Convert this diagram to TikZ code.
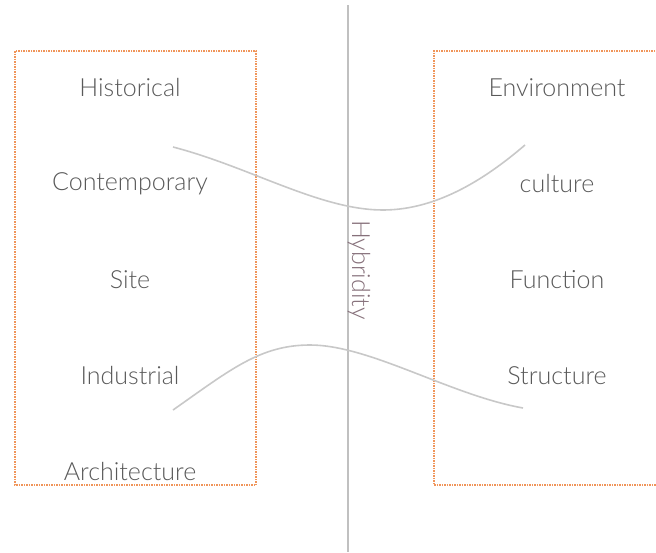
\documentclass[tikz,border=0pt]{standalone}
\usepackage{fontspec}
\setmainfont{Lato}[UprightFont={* Light}]
\begin{document}
\begin{tikzpicture}[x=1pt,y=-1pt,
  lbl/.style={text=labelgray,font=\fontsize{25}{29}\selectfont,inner sep=0pt,anchor=center},
  frame/.style={draw=frameorange,dash pattern=on 1.5pt off 1pt,line width=1.1pt},
  wave/.style={draw=curvegray,line width=1.6pt},
  axis/.style={draw=axisgray,line width=1.3pt}]
\definecolor{labelgray}{HTML}{595959}
\definecolor{frameorange}{HTML}{F0955A}
\definecolor{curvegray}{HTML}{C8C8C8}
\definecolor{axisgray}{HTML}{C0C0C0}
\definecolor{hybcol}{HTML}{86707A}
\useasboundingbox (0,0) rectangle (656,552);
% frames
\draw[frame] (15,51) rectangle (256,485);
\draw[frame] (660,51) -- (434,51) -- (434,485) -- (660,485);
% axis
\coordinate (atop) at (348,5);
\coordinate (abot) at (348,552);
\draw[axis] (atop) -- (abot);
% curves
\coordinate (t1) at (173,147);
\coordinate (t2) at (383,210);
\coordinate (t3) at (525,145);
\draw[wave] (t1) .. controls (250,167) and (320,210) .. (t2) .. controls (440,210) and (490,175) .. (t3);
\coordinate (b1) at (173,410);
\coordinate (b2) at (310,345);
\coordinate (b3) at (523,408);
\draw[wave] (b1) .. controls (230,370) and (260,345) .. (b2) .. controls (370,345) and (450,395) .. (b3);
% labels
\node[lbl] (hist) at (130,88) {Historical};
\node[lbl] (cont) at (130,184) {Contemporary};
\node[lbl] (site) at (130,280) {Site};
\node[lbl] (ind) at (130,376) {Industrial};
\node[lbl] (arch) at (130,471) {Architecture};
\node[lbl] (env) at (557,88) {Environment};
\node[lbl] (cul) at (557,184) {culture};
\node[lbl] (fun) at (557,280) {Function};
\node[lbl] (str) at (557,376) {Structure};
\node[lbl,text=hybcol,rotate=-90] (hyb) at (359,270) {Hybridity};
\end{tikzpicture}
\end{document}
